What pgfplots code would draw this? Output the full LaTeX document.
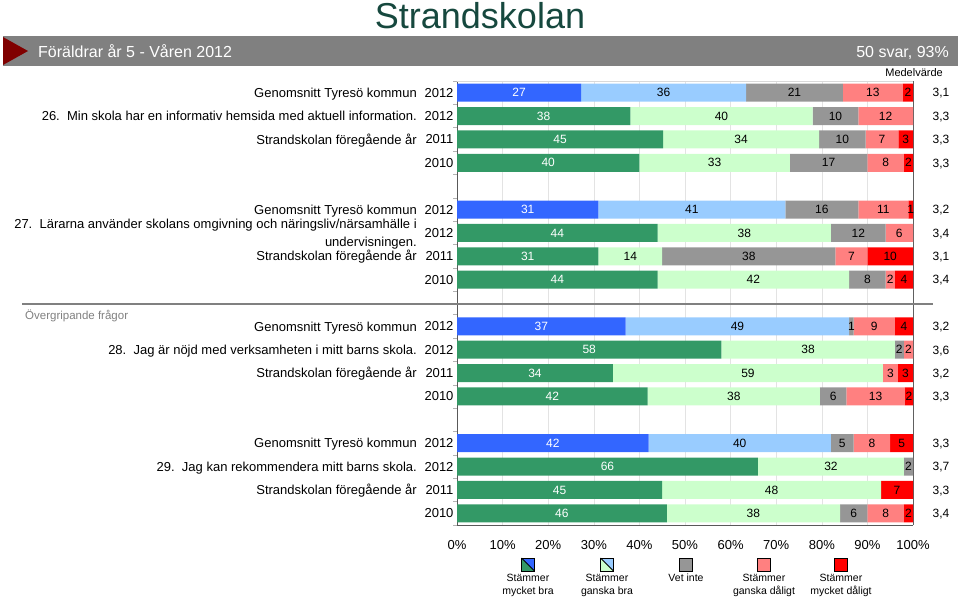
\documentclass[border=0pt]{standalone}
\usepackage{pgfplots}
\pgfplotsset{compat=1.18}
\usepackage{pgfplotstable}
\usepackage{fontspec}
\setmainfont{Liberation Sans}
\definecolor{cBlue}{RGB}{51,102,255}
\definecolor{cLBlue}{RGB}{153,204,255}
\definecolor{cGreen}{RGB}{51,153,102}
\definecolor{cLGreen}{RGB}{204,255,204}
\definecolor{cGray}{RGB}{150,150,150}
\definecolor{cPink}{RGB}{255,128,128}
\definecolor{cRed}{RGB}{255,0,0}
\definecolor{cTitle}{RGB}{22,72,62}
\definecolor{cBanner}{RGB}{128,128,128}
\definecolor{cArrow}{RGB}{128,0,0}

% y = row (0 top), a = mycket bra (Tyreso), b = mycket bra (skolan),
% c = ganska bra (Tyreso), d = ganska bra (skolan), e = vet inte,
% f = ganska daligt, g = mycket daligt
\pgfplotstableread{
y  a    b    c    d    e    f    g
0  27.2 0    36.2 0    21.2 13.2 2.2
1  0    38   0    40   10   12   0
2  0    45.2 0    34.2 10.2 7.2  3.2
3  0    40   0    33   17   8    2
5  31   0    41   0    16   11   1
6  0    44   0    38   12   6    0
7  0    31   0    14   38   7    10
8  0    44   0    42   8    2    4
10 37   0    49   0    1    9    4
11 0    58   0    38   2    2    0
12 0    34.2 0    59.2 0    3.3  3.3
13 0    41.8 0    37.8 5.8  12.8 1.8
15 42   0    40   0    5    8    5
16 0    66   0    32   2    0    0
17 0    45   0    48   0    0    7
18 0    46   0    38   6    8    2
}\data

\newcommand{\fs}[1]{\fontsize{#1}{#1}\selectfont}

\begin{document}
\begin{tikzpicture}[x=1pt,y=1pt]
\useasboundingbox (0,0) rectangle (960,-597);

% title and banner
\node[text=cTitle, font=\fs{36}] at (480,-15.5) {Strandskolan};
\fill[cBanner] (3,-36) rectangle (958,-66);
\fill[cArrow] (3,-37) -- (28,-51) -- (3,-65) -- cycle;
\node[anchor=base west, text=white, font=\fs{16}, inner sep=0] at (38,-57.5) {Föräldrar år 5 - Våren 2012};
\node[anchor=base east, text=white, font=\fs{16}, inner sep=0] at (949,-57.5) {50 svar, 93\%};
\node[anchor=base east, font=\fs{11}, inner sep=0] at (943,-76) {Medelvärde};

\begin{axis}[
  at={(457pt,-525pt)}, anchor=south west,
  scale only axis, width=456pt, height=444pt,
  xbar stacked, bar width=18pt,
  xmin=0, xmax=100, ymin=-0.5, ymax=18.5, y dir=reverse,
  clip=false,
  axis x line*=bottom, axis y line*=left,
  axis line style={-, draw=gray!70!black, line width=0.8pt},
  xtick={0,10,...,100},
  xticklabels={0\%,10\%,20\%,30\%,40\%,50\%,60\%,70\%,80\%,90\%,100\%},
  xmajorgrids, grid style={draw=gray!22, line width=0.6pt},
  extra x ticks={100}, extra x tick labels={},
  extra x tick style={grid style={draw=gray!75!black, line width=0.8pt}},
  ytick={0,1,2,3,5,6,7,8,10,11,12,13,15,16,17,18},
  yticklabels={2012,2012,2011,2010,2012,2012,2011,2010,2012,2012,2011,2010,2012,2012,2011,2010},
  minor ytick={-0.5,0.5,...,18.5},
  major tick length=0pt, minor tick length=4pt, tick align=outside,
  minor tick style={draw=gray!60, line width=0.6pt},
  /pgf/number format/assume math mode=true,
  xticklabel style={font=\fs{13}, yshift=-12pt},
  yticklabel style={font=\fs{13}},
  point meta=explicit,
  nodes near coords={\pgfmathfloatifflags{\pgfplotspointmeta}{0}{}{\pgfmathprintnumber[fixed,precision=0]{\pgfplotspointmeta}}},
  every node near coord/.append style={font=\fs{12}, text=black},
]
\addplot[fill=cBlue, draw=none, every node near coord/.append style={text=white}] table[x=a, y=y, meta=a] {\data};
\addplot[fill=cGreen, draw=none, every node near coord/.append style={text=white}] table[x=b, y=y, meta=b] {\data};
\addplot[fill=cLBlue, draw=none] table[x=c, y=y, meta=c] {\data};
\addplot[fill=cLGreen, draw=none] table[x=d, y=y, meta=d] {\data};
\addplot[fill=cGray, draw=none] table[x=e, y=y, meta=e] {\data};
\addplot[fill=cPink, draw=none] table[x=f, y=y, meta=f] {\data};
\addplot[fill=cRed, draw=none] table[x=g, y=y, meta=g] {\data};

\draw[draw=gray!30, line width=0.6pt] (axis cs:0,-0.5) -- (axis cs:100,-0.5);

% row descriptions
\tikzset{rowlab/.style={anchor=base east, font=\fs{13}, inner sep=0, xshift=-40pt, yshift=-4.65pt}}
\node[rowlab] at (axis cs:0,0) {Genomsnitt Tyresö kommun};
\node[rowlab] at (axis cs:0,1) {26.\ \ Min skola har en informativ hemsida med aktuell information.};
\node[rowlab] at (axis cs:0,2) {Strandskolan föregående år};
\node[rowlab] at (axis cs:0,5) {Genomsnitt Tyresö kommun};
\node[rowlab, yshift=9pt] at (axis cs:0,6) {27.\ \ Lärarna använder skolans omgivning och näringsliv/närsamhälle i};
\node[rowlab, yshift=-9pt] at (axis cs:0,6) {undervisningen.};
\node[rowlab] at (axis cs:0,7) {Strandskolan föregående år};
\node[rowlab] at (axis cs:0,10) {Genomsnitt Tyresö kommun};
\node[rowlab] at (axis cs:0,11) {28.\ \ Jag är nöjd med verksamheten i mitt barns skola.};
\node[rowlab] at (axis cs:0,12) {Strandskolan föregående år};
\node[rowlab] at (axis cs:0,15) {Genomsnitt Tyresö kommun};
\node[rowlab] at (axis cs:0,16) {29.\ \ Jag kan rekommendera mitt barns skola.};
\node[rowlab] at (axis cs:0,17) {Strandskolan föregående år};
\end{axis}

% mean values
\foreach \r/\m in {0/{3,1},1/{3,3},2/{3,3},3/{3,3},5/{3,2},6/{3,4},7/{3,1},8/{3,4},10/{3,2},11/{3,6},12/{3,2},13/{3,3},15/{3,3},16/{3,7},17/{3,3},18/{3,4}}
  {\node[anchor=base, font=\fs{12}, inner sep=0] at (941,{-(92.68+23.368*\r)-4.3}) {\m};}

% section separator
\draw[gray, line width=1.2pt] (22,-304) -- (933,-304);
\node[anchor=base west, text=gray, font=\fs{11.5}, inner sep=0] at (25,-319) {Övergripande frågor};

% legend
\begin{scope}[line width=0.8pt]
  \fill[cGreen] (521.5,-571) -- (521.5,-558) -- (534.5,-571) -- cycle;
  \fill[cBlue] (521.5,-558) -- (534.5,-558) -- (534.5,-571) -- cycle;
  \draw (521.5,-558) -- (534.5,-571);
  \draw (521.5,-558) rectangle (534.5,-571);
  \fill[cLGreen] (600.5,-571) -- (600.5,-558) -- (613.5,-571) -- cycle;
  \fill[cLBlue] (600.5,-558) -- (613.5,-558) -- (613.5,-571) -- cycle;
  \draw (600.5,-558) -- (613.5,-571);
  \draw (600.5,-558) rectangle (613.5,-571);
  \draw[fill=cGray] (679.5,-558) rectangle (692.5,-571);
  \draw[fill=cPink] (757.5,-558) rectangle (770.5,-571);
  \draw[fill=cRed] (834.5,-558) rectangle (847.5,-571);
\end{scope}
\tikzset{leglab/.style={anchor=base, font=\fs{10.5}, inner sep=0}}
\node[leglab] at (528,-581.8) {Stämmer};
\node[leglab] at (528,-594.6) {mycket bra};
\node[leglab] at (607,-581.8) {Stämmer};
\node[leglab] at (607,-594.6) {ganska bra};
\node[leglab] at (686,-581.8) {Vet inte};
\node[leglab] at (764,-581.8) {Stämmer};
\node[leglab] at (764,-594.6) {ganska dåligt};
\node[leglab] at (841,-581.8) {Stämmer};
\node[leglab] at (841,-594.6) {mycket dåligt};
\end{tikzpicture}
\end{document}
